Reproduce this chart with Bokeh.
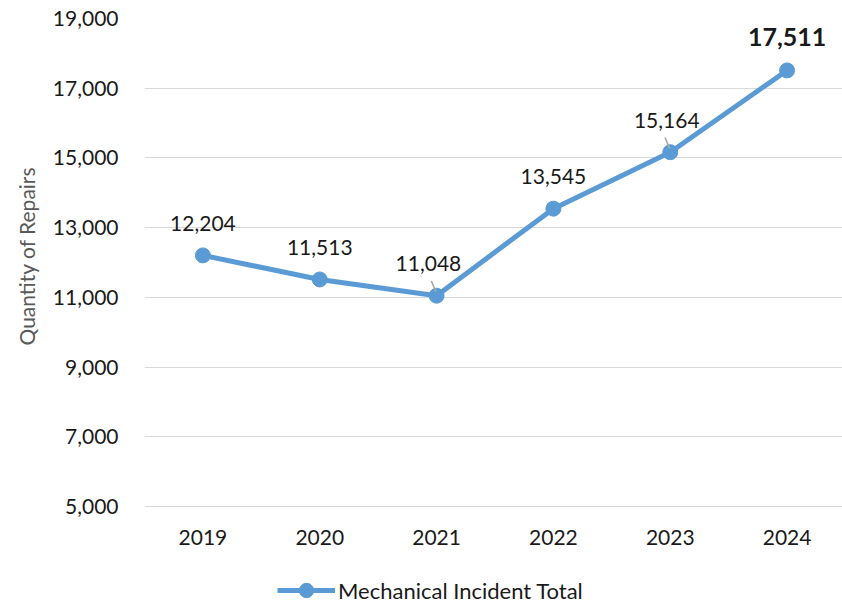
from bokeh.plotting import figure
from bokeh.models import (FactorRange, Range1d, Legend, LegendItem, NumeralTickFormatter,
                          FixedTicker, CategoricalAxis, Title)
from bokeh.core.properties import value
from bokeh.embed import file_html
from bokeh.resources import INLINE

years = ["2019", "2020", "2021", "2022", "2023", "2024"]
repairs = [12204, 11513, 11048, 13545, 15164, 17511]
y_ticks = [5000, 7000, 9000, 11000, 13000, 15000, 17000, 19000]
series_name = "Mechanical Incident Total"
y_title = "Quantity of Repairs"

FONT = "Lato"
BLUE = "#5B9BD5"

# frame extends to the bottom of the page so the legend can sit inside it;
# the value axis itself spans y_ticks[0]..y_ticks[-1] over the top 488 px
FRAME_H = 584
AXIS_H = 488
y_lo, y_hi = y_ticks[0], y_ticks[-1]
y_start = y_hi - (y_hi - y_lo) * FRAME_H / AXIS_H

p = figure(frame_width=701, frame_height=FRAME_H, x_range=FactorRange(*years, range_padding=0),
           y_range=Range1d(y_start, y_hi), output_backend="svg", toolbar_location=None,
           x_axis_location=None,
           min_border_left=141, min_border_right=0, min_border_top=18, min_border_bottom=0)
p.outline_line_color = None
p.background_fill_color = "white"

p.xgrid.grid_line_color = None
p.ygrid.grid_line_color = "#d9d9d9"
p.ygrid.grid_line_width = 1
p.yaxis.ticker = FixedTicker(ticks=y_ticks)
p.yaxis.formatter = NumeralTickFormatter(format="0,0")

xax = CategoricalAxis(fixed_location=y_lo)
p.add_layout(xax, "below")

for ax in (xax, p.yaxis[0]):
    ax.axis_line_color = None
    ax.major_tick_line_color = None
    ax.minor_tick_line_color = None
    ax.major_label_text_font = FONT
    ax.major_label_text_font_size = "21px"
    ax.major_label_text_color = "#1a1a1a"
p.yaxis.major_label_standoff = 20
xax.major_label_standoff = 17

# y-axis title, placed along the visible value span
p.add_layout(Title(text=y_title, align="left", offset=FRAME_H - 327, standoff=22,
                   text_font=FONT, text_font_size="21px", text_font_style="normal",
                   text_color="#595959"), "left")

ln = p.line(years, repairs, line_color=BLUE, line_width=5)
sc = p.scatter(years, repairs, size=15, fill_color=BLUE, line_color=BLUE)

# leader lines for 2021 and 2023
lead_idx = [2, 4]
p.segment(x0=[(years[i], -0.045) for i in lead_idx], y0=[repairs[i] + 420 for i in lead_idx],
          x1=[(years[i], -0.005) for i in lead_idx], y1=[repairs[i] + 110 for i in lead_idx],
          line_color="#a6a6a6", line_width=1.5)

labels = [f"{v:,}" for v in repairs]
x_shift = [0, 0, -0.07, 0, -0.03, 0]
p.text(x=[(years[i], x_shift[i]) for i in range(5)], y=repairs[:5], text=labels[:5],
       text_font=value(FONT), text_font_size="21px", text_color="#1a1a1a",
       text_align="center", text_baseline="middle", y_offset=-32)
p.text(x=[years[5]], y=[repairs[5]], text=[labels[5]],
       text_font=value(FONT), text_font_size="25px", text_font_style="bold", text_color="#1a1a1a",
       text_align="center", text_baseline="middle", y_offset=-33)

legend = Legend(items=[LegendItem(label=series_name, renderers=[ln, sc])],
                orientation="horizontal", location=(133, -6),
                label_text_font=FONT, label_text_font_size="22px", label_text_color="#1a1a1a",
                glyph_width=58, glyph_height=36, border_line_color=None,
                background_fill_alpha=0, margin=0, padding=0, label_standoff=3)
p.add_layout(legend)

open("out.html", "w").write(file_html(p, INLINE))
